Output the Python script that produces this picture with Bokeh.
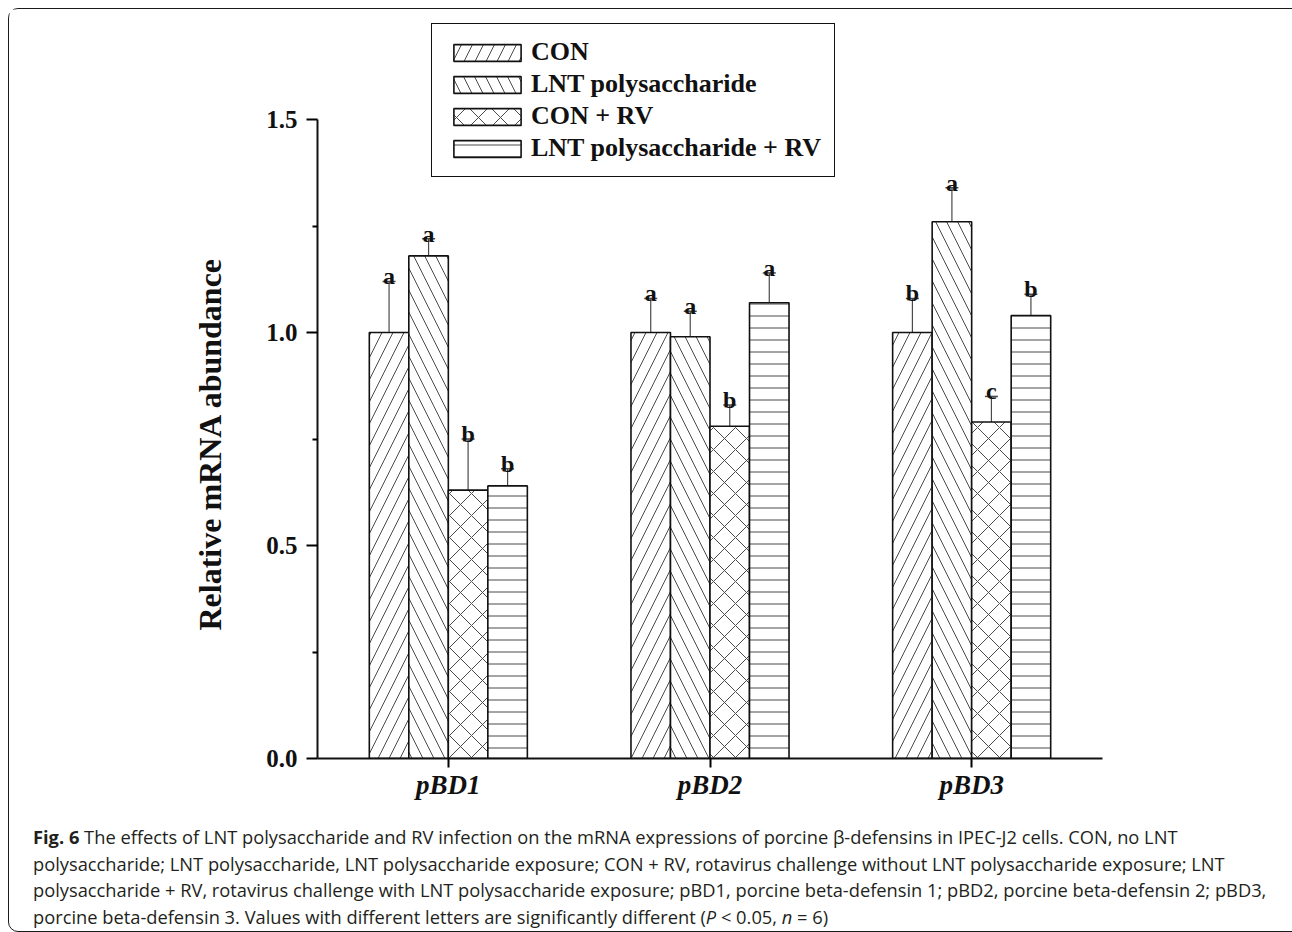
from bokeh.plotting import figure
from bokeh.models import (FactorRange, Range1d, FixedTicker, Whisker, TeeHead, Title,
                          ColumnDataSource, Legend, LegendItem, Div, PrintfTickFormatter)
from bokeh.transform import dodge
from bokeh.layouts import column
from bokeh.core.properties import value
from bokeh.embed import file_html
from bokeh.resources import INLINE

genes = ["pBD1", "pBD2", "pBD3"]
groups = ["CON", "LNT polysaccharide", "CON + RV", "LNT polysaccharide + RV"]

con = [1.00, 1.00, 1.00]
con_err = [0.12, 0.08, 0.08]
con_sig = ["a", "a", "b"]

lnt = [1.18, 0.99, 1.26]
lnt_err = [0.04, 0.06, 0.08]
lnt_sig = ["a", "a", "a"]

conrv = [0.63, 0.78, 0.79]
conrv_err = [0.12, 0.05, 0.06]
conrv_sig = ["b", "b", "c"]

lntrv = [0.64, 1.07, 1.04]
lntrv_err = [0.04, 0.07, 0.05]
lntrv_sig = ["b", "a", "b"]

y_ticks = [0.0, 0.5, 1.0, 1.5]
y_minor = [0.25, 0.75, 1.25]
y_title = "Relative mRNA abundance"

series = [
    (con, con_err, con_sig, "/", 22),
    (lnt, lnt_err, lnt_sig, "\\", 22),
    (conrv, conrv_err, conrv_sig, "x", 22),
    (lntrv, lntrv_err, lntrv_sig, "-", 12),
]
offsets = [-0.2265, -0.0755, 0.0755, 0.2265]
bar_w = 0.151

SERIF = "Liberation Serif"

p = figure(width=1282, height=800, x_range=FactorRange(*genes, range_padding=0),
           y_range=Range1d(0, 1.735), output_backend="svg", toolbar_location=None,
           min_border_left=308, min_border_right=189, min_border_top=10,
           min_border_bottom=51)
p.outline_line_color = None
p.xgrid.grid_line_color = None
p.ygrid.grid_line_color = None
p.background_fill_color = "white"
p.border_fill_color = "white"

items = []
for (vals, errs, sig, hatch, hscale), off, name in zip(series, offsets, groups):
    src = ColumnDataSource(dict(gene=genes, top=vals,
                                upper=[v + e for v, e in zip(vals, errs)],
                                sig=sig))
    xs = dodge("gene", off, range=p.x_range)
    r = p.vbar(x=xs, top="top", width=bar_w, bottom=0, source=src,
               fill_color="white", line_color="#111111", line_width=1.6,
               hatch_pattern=hatch, hatch_color="#4a4a4a", hatch_weight=1,
               hatch_scale=hscale)
    items.append(LegendItem(label=name, renderers=[r]))
    w = Whisker(base=xs, lower="top", upper="upper", source=src,
                line_color="#4a4a4a", line_width=1.2,
                upper_head=TeeHead(size=13, line_color="#4a4a4a", line_width=1.5),
                lower_head=None)
    p.add_layout(w)
    p.text(x=xs, y="upper", text="sig", source=src, text_align="center",
           text_baseline="alphabetic", y_offset=-5,
           text_font=value(SERIF), text_font_style="bold",
           text_font_size="24px", text_color="#111111")

legend = Legend(items=items, location=(114, 581), orientation="vertical",
                border_line_color="#111111", border_line_width=1.5,
                border_line_alpha=1.0,
                background_fill_alpha=1.0, padding=13, margin=0,
                spacing=2, glyph_width=84, glyph_height=21, label_height=28,
                label_standoff=2, label_text_font=SERIF,
                label_text_font_style="bold", label_text_font_size="26px",
                label_text_color="#111111")
p.add_layout(legend, "center")

yax = p.yaxis[0]
yax.ticker = FixedTicker(ticks=y_ticks, minor_ticks=y_minor)
yax.bounds = (0, 1.5)
yax.formatter = PrintfTickFormatter(format="%.1f")
yax.major_label_text_font = SERIF
yax.major_label_text_font_style = "bold"
yax.major_label_text_font_size = "25px"
yax.major_label_text_color = "#111111"
yax.major_label_standoff = 9
yax.major_tick_in = 0
yax.major_tick_out = 11
yax.minor_tick_in = 0
yax.minor_tick_out = 5
yax.axis_line_width = 2
yax.major_tick_line_width = 2
yax.minor_tick_line_width = 2
yax.axis_line_color = "#111111"

ttl = Title(text=y_title, align="left", offset=128, standoff=72,
            text_font=SERIF, text_font_style="bold", text_font_size="32px",
            text_color="#111111")
p.add_layout(ttl, "left")

xax = p.xaxis[0]
xax.major_label_text_font = SERIF
xax.major_label_text_font_style = "bold italic"
xax.major_label_text_font_size = "27px"
xax.major_label_text_color = "#111111"
xax.major_label_standoff = 2
xax.major_tick_in = 0
xax.major_tick_out = 9
xax.axis_line_width = 2
xax.major_tick_line_width = 2
xax.axis_line_color = "#111111"

caption_lines = [
    "<b>Fig. 6</b> The effects of LNT polysaccharide and RV infection on the mRNA expressions of porcine &beta;-defensins in IPEC-J2 cells. CON, no LNT",
    "polysaccharide; LNT polysaccharide, LNT polysaccharide exposure; CON + RV, rotavirus challenge without LNT polysaccharide exposure; LNT",
    "polysaccharide + RV, rotavirus challenge with LNT polysaccharide exposure; pBD1, porcine beta-defensin 1; pBD2, porcine beta-defensin 2; pBD3,",
    "porcine beta-defensin 3. Values with different letters are significantly different (<i>P</i> &lt; 0.05, <i>n</i> = 6)",
]
cap_html = ('<div style="font-family:\'Open Sans\',sans-serif;font-size:18.3px;'
            'line-height:26.7px;color:#231f20;white-space:nowrap;padding:10px 0 0 19px;">'
            + "<br>".join(caption_lines) + "</div>")
cap = Div(text=cap_html, width=1282, height=112)

layout = column(p, cap, styles={"border": "1.5px solid #1a1a1a", "border-radius": "10px",
                                "margin-left": "8px", "margin-top": "8px",
                                "background": "white"})

open("out.html", "w").write(file_html(layout, INLINE))
